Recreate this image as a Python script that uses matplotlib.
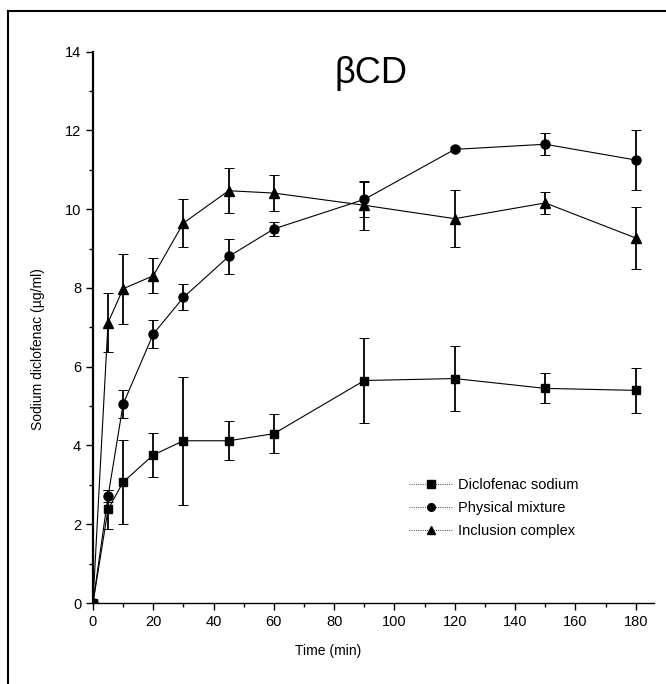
import matplotlib.pyplot as plt
from matplotlib.lines import Line2D
from matplotlib.ticker import MultipleLocator

plt.rcParams['font.family'] = ['Liberation Sans', 'DejaVu Sans']

# data
time = [0, 5, 10, 20, 30, 45, 60, 90, 120, 150, 180]

ds_mean = [0, 2.38, 3.07, 3.76, 4.12, 4.12, 4.30, 5.65, 5.70, 5.45, 5.40]
ds_err = [0, 0.50, 1.07, 0.56, 1.63, 0.50, 0.50, 1.08, 0.82, 0.38, 0.58]

pm_mean = [0, 2.71, 5.05, 6.83, 7.76, 8.80, 9.50, 10.25, 11.52, 11.65, 11.25]
pm_err = [0, 0.15, 0.35, 0.36, 0.33, 0.45, 0.18, 0.45, 0.05, 0.28, 0.75]

ic_mean = [0, 7.12, 7.98, 8.31, 9.65, 10.47, 10.41, 10.10, 9.76, 10.16, 9.27]
ic_err = [0, 0.74, 0.89, 0.44, 0.61, 0.57, 0.45, 0.62, 0.72, 0.29, 0.79]

labels = ["Diclofenac sodium", "Physical mixture", "Inclusion complex"]
markers = ["s", "o", "^"]

fig = plt.figure(figsize=(6.66, 6.84), dpi=100)
ax = fig.add_axes([0.1396, 0.1184, 0.842, 0.806])

series = [(ds_mean, ds_err), (pm_mean, pm_err), (ic_mean, ic_err)]
sizes = [6, 6.5, 7]
for (m, e), lab, mk, ms in zip(series, labels, markers, sizes):
    ax.errorbar(time, m, yerr=e, marker=mk, ms=ms, color="black",
                lw=0.8, elinewidth=1.3, capsize=3.5, capthick=0.7,
                label=lab)

ax.set_xlim(0, 186)
ax.set_ylim(0, 14)
ax.xaxis.set_major_locator(MultipleLocator(20))
ax.xaxis.set_minor_locator(MultipleLocator(10))
ax.yaxis.set_major_locator(MultipleLocator(2))
ax.yaxis.set_minor_locator(MultipleLocator(1))
ax.spines["top"].set_visible(False)
ax.spines["right"].set_visible(False)
ax.spines["left"].set_linewidth(1.6)
ax.spines["bottom"].set_linewidth(1.0)
ax.tick_params(which="major", direction="out", length=5, width=1, labelsize=10.5)
ax.tick_params(which="minor", direction="out", length=3, width=1)

ax.set_xlabel("Time (min)", fontsize=10)
ax.xaxis.set_label_coords(0.42, -0.075)
ax.set_ylabel("Sodium diclofenac (µg/ml)", fontsize=10)
ax.yaxis.set_label_coords(-0.085, 0.46)

ax.text(0.495, 0.96, "βCD", transform=ax.transAxes, fontsize=26,
        ha="center", va="center")

# legend handles: marker in the middle of a thin line
handles = [Line2D([], [], color="black", lw=0.6, ls=":", marker=mk, ms=5.5)
           for mk in markers]
ax.legend(handles, labels, loc="upper left", bbox_to_anchor=(0.54, 0.25),
          frameon=False, fontsize=10.5, handlelength=3, handletextpad=0.4,
          labelspacing=0.6)

# scanned page frame, top and left only
fig.add_artist(Line2D([0.012, 1.0], [0.984, 0.984], color="black", lw=1.5,
                      transform=fig.transFigure))
fig.add_artist(Line2D([0.012, 0.012], [0.0, 0.984], color="black", lw=1.5,
                      transform=fig.transFigure))

fig.savefig("out.png", dpi=100)
